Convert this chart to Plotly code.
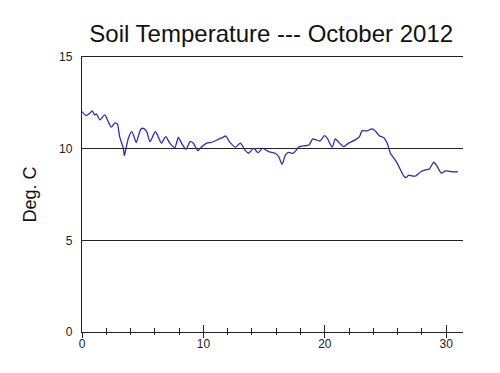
import plotly.graph_objects as go

days = [0, 0.35, 0.63, 0.85, 1.04, 1.18, 1.48, 1.87, 2.2, 2.42, 2.69, 2.91, 3.1, 3.4, 3.49, 3.6,
        3.82, 4.1, 4.38, 4.47, 4.84, 5.05, 5.33, 5.6, 6.04, 6.27, 6.54, 6.9, 7.23, 7.64, 7.94,
        8.2, 8.57, 8.9, 9.17, 9.54, 9.87, 10.28, 10.69, 11.24, 11.6, 11.85, 12.14, 12.64, 13.04,
        13.46, 13.72, 14.14, 14.5, 14.87, 15.37, 15.9, 16.2, 16.48, 16.76, 17.0, 17.4, 17.9,
        18.24, 18.7, 19.0, 19.3, 19.6, 19.97, 20.2, 20.6, 20.86, 21.1, 21.55, 21.95, 22.5,
        22.86, 23.06, 23.47, 23.88, 24.15, 24.48, 24.86, 25.14, 25.4, 25.7, 25.97, 26.24, 26.5,
        26.7, 26.9, 27.2, 27.5, 27.9, 28.3, 28.6, 28.98, 29.26, 29.6, 29.9, 30.15, 30.47, 30.95]
temps = [12.02, 11.8, 11.93, 12.06, 11.84, 11.9, 11.57, 11.84, 11.42, 11.17, 11.39, 11.35, 10.66,
         10.02, 9.62, 9.93, 10.57, 10.93, 10.48, 10.33, 11.06, 11.11, 10.93, 10.38, 10.93, 10.66,
         10.3, 10.66, 10.3, 10.05, 10.62, 10.3, 9.97, 10.38, 10.3, 9.89, 10.11, 10.3, 10.35,
         10.51, 10.62, 10.69, 10.38, 10.08, 10.3, 9.89, 9.75, 10.02, 9.78, 10.02, 9.84, 9.75,
         9.56, 9.15, 9.66, 9.8, 9.75, 10.11, 10.15, 10.2, 10.53, 10.48, 10.42, 10.71, 10.57,
         10.08, 10.53, 10.38, 10.11, 10.3, 10.48, 10.66, 10.97, 10.97, 11.08, 10.97, 10.71,
         10.6, 10.3, 9.75, 9.47, 9.2, 8.84, 8.51, 8.42, 8.56, 8.51, 8.52, 8.74, 8.84, 8.89,
         9.26, 9.02, 8.66, 8.78, 8.78, 8.74, 8.74]

x_major = [0, 10, 20, 30]
y_ticks = [0, 5, 10, 15]

fig = go.Figure()
fig.add_trace(go.Scatter(x=days, y=temps, mode="lines",
                         line=dict(color="#2e2eab", width=1.3, shape="spline", smoothing=0.6),
                         showlegend=False, hoverinfo="skip"))

axis_col = "#222222"
fig.update_layout(
    width=492, height=365,
    margin=dict(l=74, r=37, t=49, b=41),
    paper_bgcolor="white", plot_bgcolor="white",
    font=dict(family="Liberation Sans, Arial, sans-serif", color="#222"),
    title=dict(text="Soil Temperature --- October 2012", x=0.535, xanchor="center",
               y=0.93, yanchor="middle", font=dict(size=24, color="#111")),
    xaxis=dict(range=[0, 31.38], tickvals=x_major, showgrid=False, zeroline=False,
               showline=True, mirror=True, linecolor=axis_col, linewidth=1.4,
               ticks="inside", ticklen=7, tickcolor=axis_col, tickwidth=1,
               minor=dict(dtick=2, ticks="inside", ticklen=4, tickcolor=axis_col, tickwidth=1),
               tickfont=dict(size=12, color="#222")),
    xaxis2=dict(range=[0, 31.38], overlaying="x", anchor="y", side="bottom",
                tickvals=x_major, showticklabels=False, showgrid=False, zeroline=False,
                showline=False, ticks="outside", ticklen=5, tickcolor=axis_col,
                minor=dict(dtick=2, ticks="outside", ticklen=2, tickcolor=axis_col)),
    yaxis=dict(range=[0, 15], tickvals=y_ticks, showgrid=True, gridcolor=axis_col,
               gridwidth=1.4, zeroline=False, showline=True, linecolor=axis_col, linewidth=1.4,
               ticks="", ticklabelstandoff=6, tickfont=dict(size=12, color="#222"),
               title=dict(text="Deg. C", font=dict(size=18, color="#111"), standoff=17)),
)
fig.add_trace(go.Scatter(x=[None], y=[None], xaxis="x2", showlegend=False, hoverinfo="skip"))
fig.write_html("out.html")
